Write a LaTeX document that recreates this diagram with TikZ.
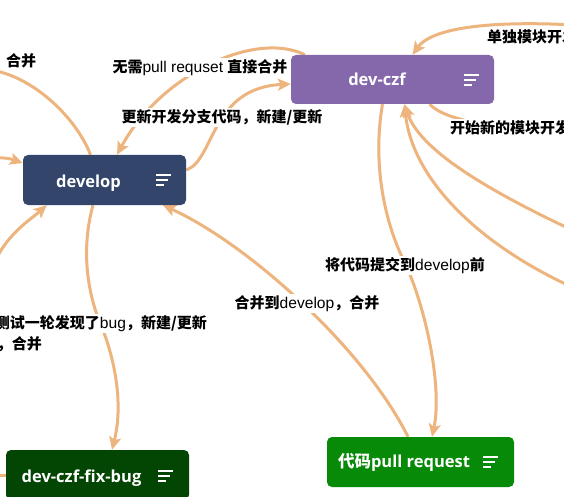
\documentclass[tikz,border=0pt]{standalone}
\usepackage{fontspec}
\setmainfont{Liberation Sans}[Scale=1.04]
\newfontfamily\cjkf{Noto Sans CJK SC}
\newfontfamily\nodef{Open Sans}
\usetikzlibrary{arrows.meta,calc,backgrounds}
\definecolor{linec}{HTML}{EDB47E}
\definecolor{czfc}{HTML}{8567AB}
\definecolor{devc}{HTML}{33456A}
\definecolor{fixc}{HTML}{034503}
\definecolor{prc}{HTML}{078A07}
\newcommand\zhb[1]{{\cjkf\bfseries #1}}
\newcommand\menuicon[2]{\draw[iconline] (#1,#2) -- ++(15,0) (#1,#2+5) -- ++(12,0) (#1,#2+10) -- ++(8,0);}
\begin{document}
\begin{tikzpicture}[x=1pt,y=-1pt,
  conn/.style={draw=linec, line width=3pt},
  arr/.style={-{Stealth[length=13pt,width=12pt,inset=3pt]}},
  box/.style={rounded corners=5pt, inner sep=0pt},
  btext/.style={text=white, font=\nodef\bfseries\fontsize{16.5}{18}\selectfont, inner sep=0pt, anchor=base},
  lab/.style={fill=white, inner sep=1.5pt, font=\fontsize{15}{16}\selectfont},
  iconline/.style={draw=white, line width=2pt}]
\useasboundingbox (0,0) rectangle (564,497);

% nodes
\node[box, fill=czfc, minimum width=203pt, minimum height=49pt] (czf) at (392.5,79.5) {};
\node[btext] (czft) at (377,86) {dev-czf};
\menuicon{464}{75}

\node[box, fill=devc, minimum width=163pt, minimum height=50pt] (dev) at (104.5,180) {};
\node[btext] (devt) at (88.5,187) {develop};
\menuicon{156}{175}

\node[box, fill=fixc, minimum width=183pt, minimum height=50pt] (fix) at (97.5,475) {};
\node[btext] (fixt) at (81.5,482) {dev-czf-fix-bug};
\menuicon{158}{471}

\node[box, fill=prc, minimum width=187pt, minimum height=50pt] (pr) at (420.5,462) {};
\node[btext] (prt) at (404,467) {\zhb{代码}pull request};
\menuicon{483}{457}

% free ends
\coordinate (e1) at (575,25);
\coordinate (e2) at (505,128);
\coordinate (e3a) at (572,230);
\coordinate (e3b) at (572,287);
\coordinate (m4) at (406,265);
\coordinate (m6) at (103,330);
\coordinate (e7) at (-8,268);
\coordinate (e8) at (-8,158);
\coordinate (e9) at (-10,70);
\coordinate (e12) at (-10,475);

\begin{scope}[on background layer]
\draw[conn,arr] (e1) .. controls (480,20) and (430,30) .. ($(czf.north)+(20,0)$);
\draw[conn] ($(czf.south)+(37,0)$) .. controls (440,114) and (455,120) .. (e2);
\draw[conn,arr] (e3a) .. controls (470,182) and (418,145) .. ($(czf.south)+(12,0)$);
\draw[conn,arr] (e3b) .. controls (480,245) and (412,180) .. ($(czf.south)+(12,0)$);
\draw[conn,arr] ($(czf.south)+(-10,0)$) .. controls (372,165) and (385,225) .. (m4) .. controls (428,315) and (442,390) .. ($(pr.north)+(11.5,0)$);
\draw[conn,arr] ($(pr.north)+(-12.5,0)$) .. controls (365,350) and (250,245) .. ($(dev.south)+(58.5,0)$);
\draw[conn,arr] ($(dev.south)+(-11.5,0)$) .. controls (82,245) and (85,290) .. (m6) .. controls (118,370) and (122,410) .. ($(fix.north)+(14.5,0)$);
\draw[conn,arr] (e7) .. controls (5,235) and (30,220) .. ($(dev.south west)+(24,0)$);
\draw[conn,arr] (e8) .. controls (8,157) and (14,160) .. ($(dev.west)+(0,-17)$);
\draw[conn] (e9) .. controls (30,75) and (75,115) .. ($(dev.north)+(-14,0)$);
\draw[conn,arr] ($(czf.north west)+(14,0)$) .. controls (255,30) and (160,75) .. ($(dev.north)+(12.5,0)$);
\draw[conn,arr] ($(dev.east)+(0,-10)$) .. controls (215,160) and (210,88) .. ($(czf.west)+(0,4.5)$);
\draw[conn] (e12) -- (fix.west);
\end{scope}

% labels
\node[lab, anchor=base] (l1) at (21,66.5) {\zhb{合并}};
\node[lab, anchor=base] (l2) at (200,72.5) {\zhb{无需}pull requset \zhb{直接合并}};
\node[lab, anchor=base] (l3) at (222,122.5) {\zhb{更新开发分支代码，新建/更新}};
\node[lab, anchor=base west] (l4) at (485.5,42.5) {\zhb{单独模块开发}};
\node[lab, anchor=base west] (l5) at (448.5,133.5) {\zhb{开始新的模块开发}};
\node[lab, anchor=base] (l6) at (405,270.5) {\zhb{将代码提交到}develop\zhb{前}};
\node[lab, anchor=base] (l7) at (307,308.5) {\zhb{合并到}develop\zhb{，合并}};
\node[lab, anchor=base east] (l8) at (208.5,328.5) {\zhb{测试一轮发现了}bug\zhb{，新建/更新}};
\node[lab, anchor=base east] (l9) at (43.5,349.5) {\zhb{，合并}};
\end{tikzpicture}
\end{document}
